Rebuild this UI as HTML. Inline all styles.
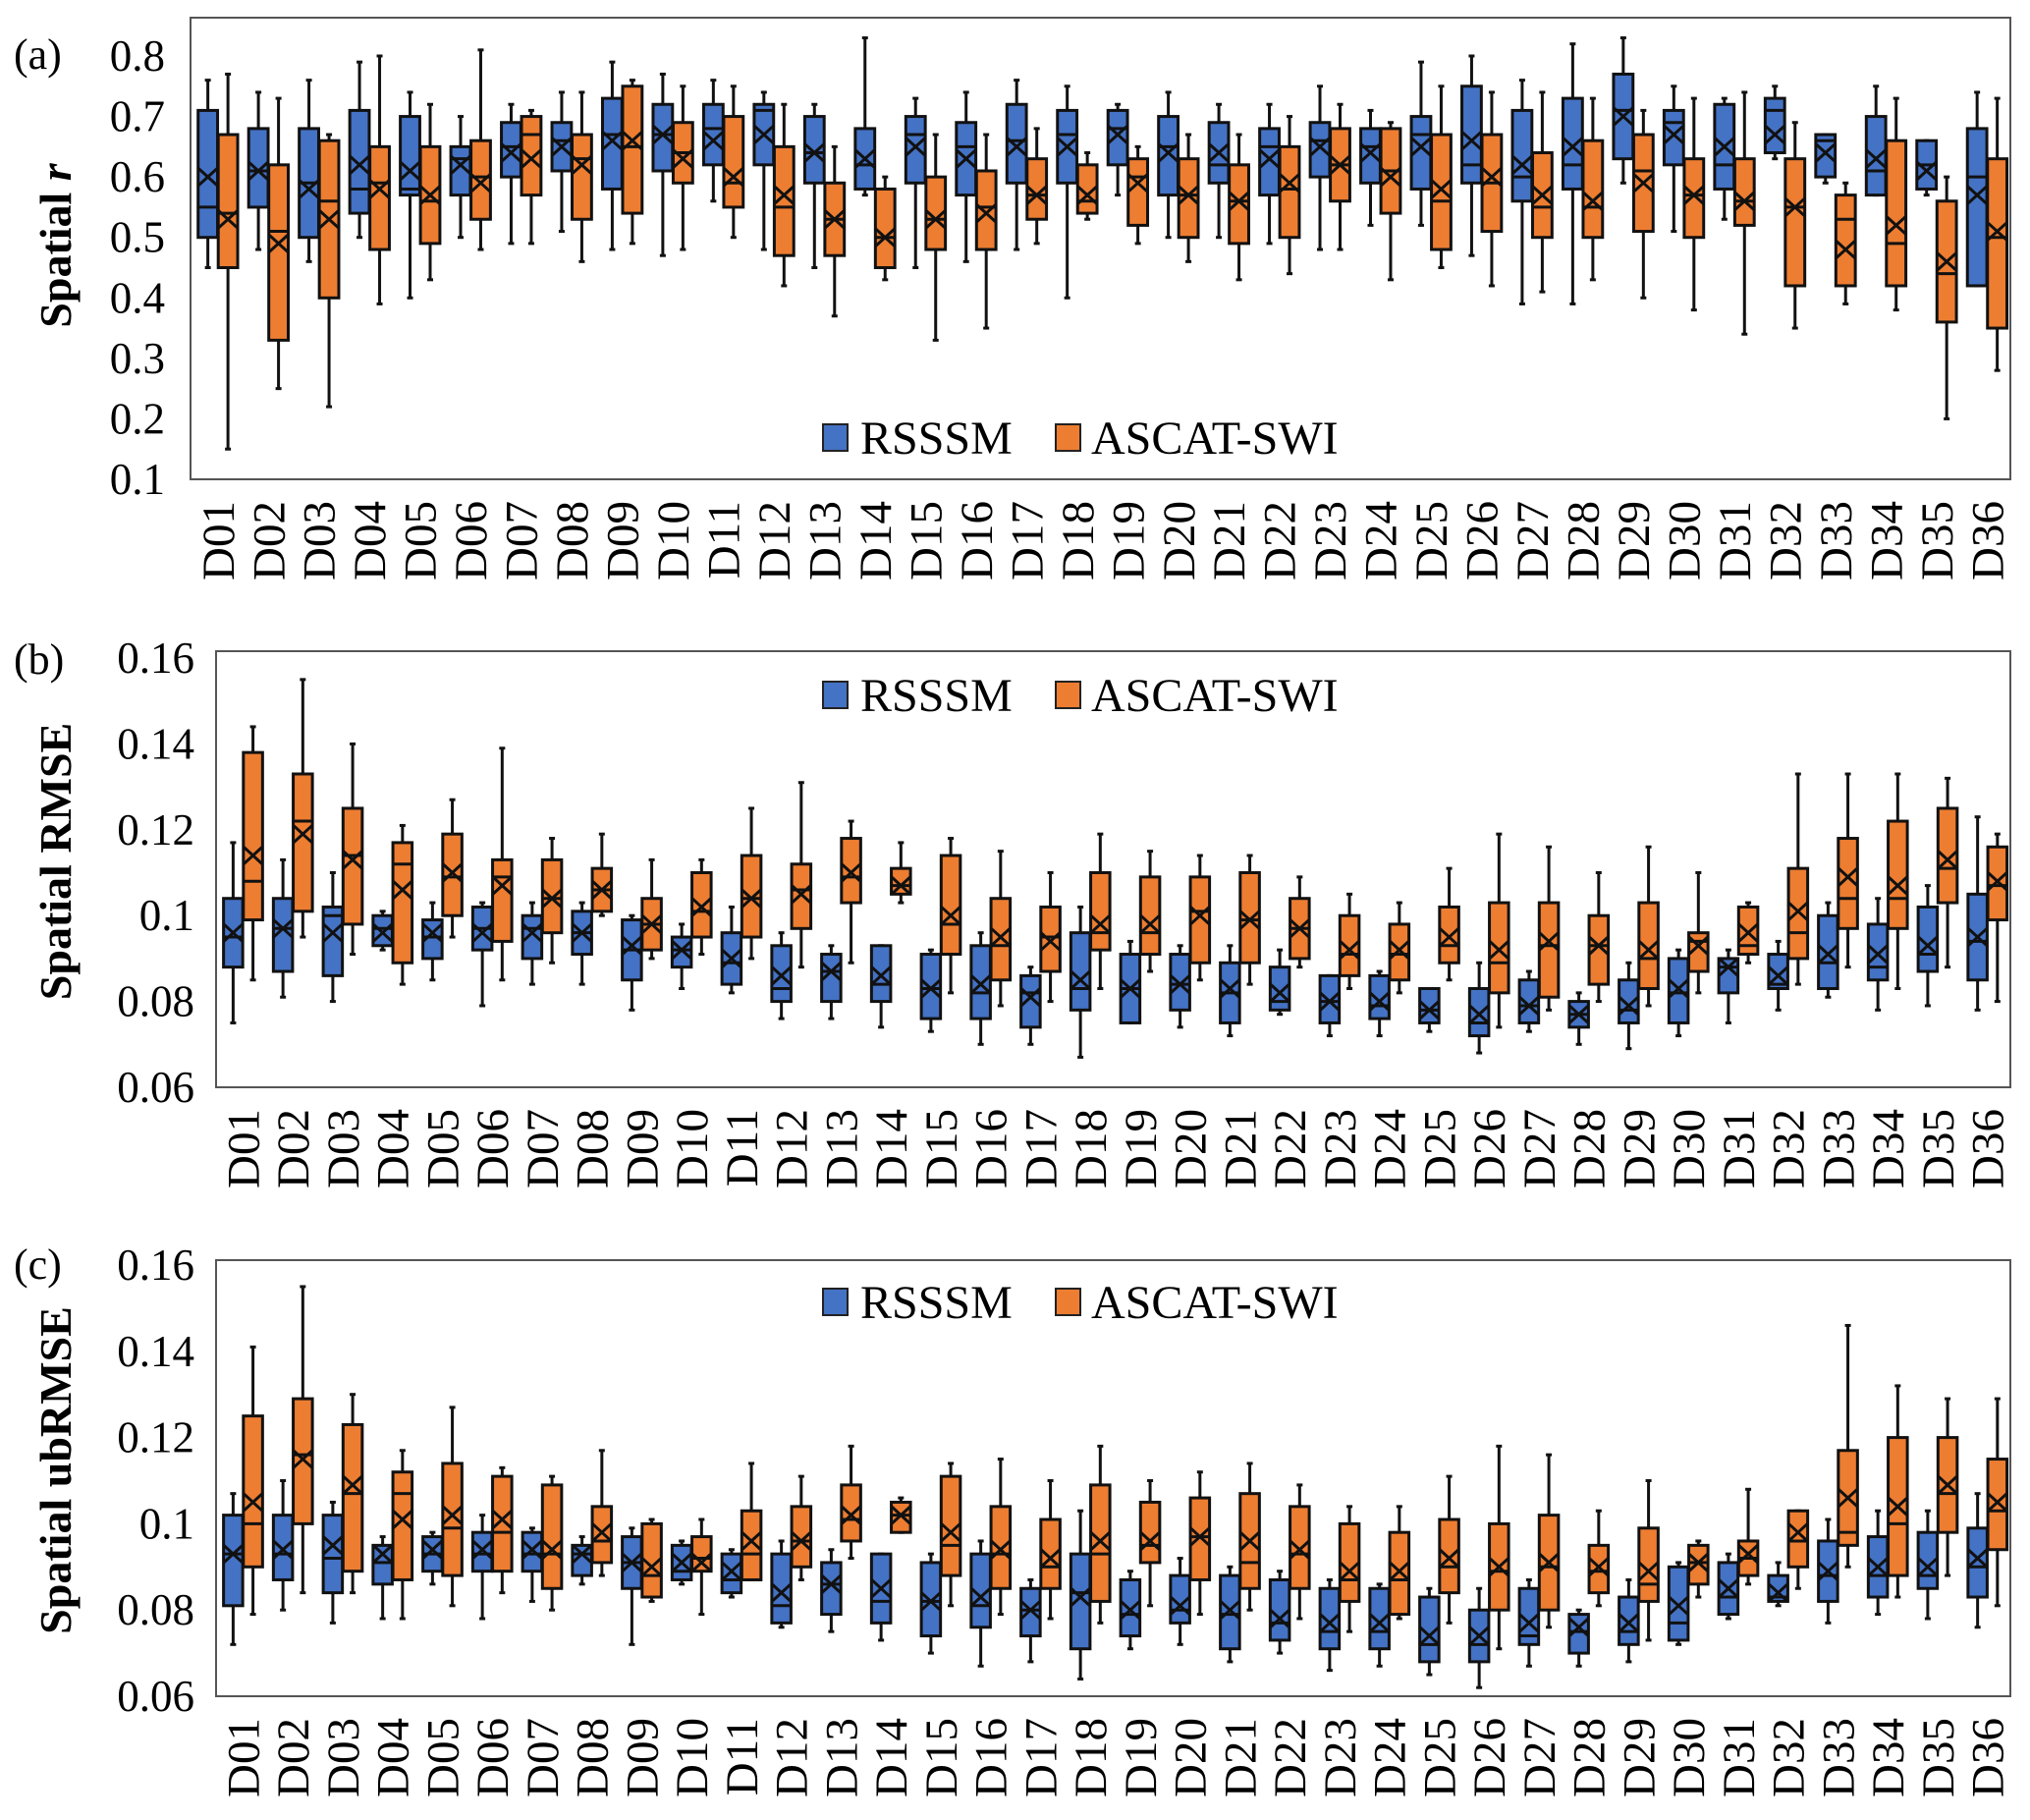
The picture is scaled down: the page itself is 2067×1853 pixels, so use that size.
<!DOCTYPE html>
<html><head><meta charset="utf-8"><style>
html,body{margin:0;padding:0;background:#fff;}
svg{display:block;}
text{font-family:"Liberation Serif",serif;fill:#000;}
</style></head><body>
<svg id="chart" width="2067" height="1853" viewBox="0 0 2067 1853" xmlns="http://www.w3.org/2000/svg"></svg>
<script>
const categories = ["D01","D02","D03","D04","D05","D06","D07","D08","D09","D10","D11","D12","D13","D14","D15","D16","D17","D18","D19","D20","D21","D22","D23","D24","D25","D26","D27","D28","D29","D30","D31","D32","D33","D34","D35","D36"];
// each entry: [min, q1, median, q3, max, mean]
const rRSSSM = [[0.45,0.50,0.55,0.71,0.76,0.60],[0.48,0.55,0.61,0.68,0.74,0.61],[0.46,0.50,0.59,0.68,0.76,0.58],[0.50,0.54,0.58,0.71,0.79,0.62],[0.40,0.57,0.58,0.70,0.74,0.61],[0.50,0.57,0.63,0.65,0.70,0.62],[0.49,0.60,0.65,0.69,0.72,0.64],[0.51,0.61,0.66,0.69,0.74,0.65],[0.48,0.58,0.67,0.73,0.79,0.66],[0.47,0.61,0.67,0.72,0.77,0.67],[0.56,0.62,0.68,0.72,0.76,0.66],[0.48,0.62,0.71,0.72,0.74,0.67],[0.45,0.59,0.64,0.70,0.72,0.64],[0.57,0.58,0.62,0.68,0.83,0.63],[0.45,0.59,0.67,0.70,0.73,0.65],[0.46,0.57,0.65,0.69,0.74,0.63],[0.48,0.59,0.66,0.72,0.76,0.65],[0.40,0.59,0.67,0.71,0.75,0.65],[0.57,0.62,0.68,0.71,0.72,0.67],[0.50,0.57,0.65,0.70,0.74,0.64],[0.50,0.59,0.62,0.69,0.72,0.64],[0.49,0.57,0.65,0.68,0.72,0.63],[0.48,0.60,0.66,0.69,0.75,0.65],[0.52,0.59,0.65,0.68,0.71,0.64],[0.52,0.58,0.67,0.70,0.79,0.65],[0.47,0.59,0.62,0.75,0.80,0.66],[0.39,0.56,0.60,0.71,0.76,0.62],[0.39,0.58,0.62,0.73,0.82,0.65],[0.59,0.63,0.71,0.77,0.83,0.70],[0.51,0.62,0.69,0.71,0.75,0.67],[0.53,0.58,0.62,0.72,0.73,0.65],[0.63,0.64,0.71,0.73,0.75,0.67],[0.59,0.60,0.66,0.67,0.67,0.64],[0.57,0.57,0.61,0.70,0.75,0.63],[0.57,0.58,0.62,0.66,0.66,0.61],[0.43,0.42,0.60,0.68,0.74,0.57]];
const rASCAT = [[0.15,0.45,0.54,0.67,0.77,0.53],[0.25,0.33,0.51,0.62,0.73,0.49],[0.22,0.40,0.56,0.66,0.67,0.53],[0.39,0.48,0.59,0.65,0.80,0.58],[0.43,0.49,0.56,0.65,0.72,0.57],[0.48,0.53,0.60,0.66,0.81,0.59],[0.49,0.57,0.67,0.70,0.71,0.63],[0.46,0.53,0.63,0.67,0.74,0.62],[0.49,0.54,0.65,0.75,0.76,0.66],[0.48,0.59,0.64,0.69,0.75,0.63],[0.50,0.55,0.59,0.70,0.75,0.60],[0.42,0.47,0.55,0.65,0.72,0.57],[0.37,0.47,0.53,0.59,0.65,0.53],[0.43,0.45,0.50,0.58,0.60,0.50],[0.33,0.48,0.53,0.60,0.67,0.53],[0.35,0.48,0.55,0.61,0.67,0.54],[0.49,0.53,0.57,0.63,0.68,0.57],[0.53,0.54,0.56,0.62,0.64,0.57],[0.49,0.52,0.60,0.63,0.65,0.59],[0.46,0.50,0.57,0.63,0.67,0.57],[0.43,0.49,0.56,0.62,0.67,0.56],[0.44,0.50,0.58,0.65,0.70,0.59],[0.48,0.56,0.62,0.68,0.72,0.62],[0.43,0.54,0.61,0.68,0.69,0.60],[0.45,0.48,0.56,0.67,0.75,0.58],[0.42,0.51,0.59,0.67,0.74,0.60],[0.41,0.50,0.55,0.64,0.74,0.57],[0.43,0.50,0.55,0.66,0.73,0.56],[0.40,0.51,0.61,0.67,0.71,0.59],[0.38,0.50,0.57,0.63,0.73,0.57],[0.34,0.52,0.56,0.63,0.74,0.56],[0.35,0.42,0.55,0.63,0.69,0.55],[0.39,0.42,0.53,0.57,0.59,0.48],[0.38,0.42,0.49,0.66,0.73,0.52],[0.20,0.36,0.44,0.56,0.60,0.46],[0.28,0.35,0.50,0.63,0.73,0.51]];
const rmseRSSSM = [[0.075,0.088,0.095,0.104,0.117,0.096],[0.081,0.087,0.097,0.104,0.113,0.097],[0.080,0.086,0.100,0.102,0.110,0.096],[0.092,0.093,0.097,0.100,0.101,0.096],[0.085,0.090,0.095,0.099,0.103,0.096],[0.079,0.092,0.097,0.102,0.103,0.096],[0.084,0.090,0.097,0.100,0.103,0.096],[0.084,0.091,0.096,0.101,0.103,0.096],[0.078,0.085,0.092,0.099,0.100,0.093],[0.083,0.088,0.092,0.095,0.098,0.092],[0.082,0.084,0.089,0.096,0.102,0.090],[0.076,0.080,0.083,0.093,0.096,0.086],[0.076,0.080,0.087,0.091,0.093,0.087],[0.074,0.080,0.084,0.093,0.093,0.086],[0.073,0.076,0.083,0.091,0.092,0.083],[0.070,0.076,0.082,0.093,0.096,0.084],[0.070,0.074,0.082,0.086,0.088,0.081],[0.067,0.078,0.083,0.096,0.102,0.085],[0.075,0.075,0.083,0.091,0.094,0.083],[0.074,0.078,0.084,0.091,0.093,0.084],[0.072,0.075,0.082,0.089,0.093,0.083],[0.077,0.078,0.080,0.088,0.092,0.082],[0.072,0.075,0.080,0.086,0.086,0.080],[0.072,0.076,0.079,0.086,0.087,0.080],[0.073,0.075,0.078,0.083,0.083,0.078],[0.068,0.072,0.075,0.083,0.089,0.077],[0.073,0.075,0.079,0.085,0.087,0.079],[0.070,0.074,0.077,0.080,0.082,0.077],[0.069,0.075,0.078,0.085,0.089,0.079],[0.072,0.075,0.082,0.090,0.092,0.083],[0.075,0.082,0.088,0.090,0.092,0.088],[0.078,0.083,0.084,0.091,0.094,0.086],[0.081,0.083,0.089,0.100,0.103,0.091],[0.078,0.085,0.088,0.098,0.104,0.091],[0.079,0.087,0.091,0.102,0.107,0.093],[0.078,0.085,0.094,0.105,0.123,0.095]];
const rmseASCAT = [[0.085,0.099,0.108,0.138,0.144,0.114],[0.095,0.101,0.122,0.133,0.155,0.119],[0.091,0.098,0.114,0.125,0.140,0.113],[0.084,0.089,0.112,0.117,0.121,0.106],[0.095,0.100,0.109,0.119,0.127,0.110],[0.085,0.094,0.109,0.113,0.139,0.107],[0.089,0.096,0.104,0.113,0.118,0.104],[0.100,0.101,0.106,0.111,0.119,0.106],[0.090,0.092,0.098,0.104,0.113,0.098],[0.091,0.095,0.101,0.110,0.113,0.102],[0.090,0.095,0.104,0.114,0.125,0.104],[0.088,0.097,0.106,0.112,0.131,0.105],[0.089,0.103,0.109,0.118,0.122,0.110],[0.103,0.105,0.107,0.111,0.117,0.107],[0.082,0.091,0.098,0.114,0.118,0.100],[0.079,0.085,0.093,0.104,0.115,0.095],[0.080,0.087,0.095,0.102,0.110,0.094],[0.083,0.092,0.096,0.110,0.119,0.098],[0.087,0.091,0.096,0.109,0.115,0.098],[0.085,0.089,0.101,0.109,0.114,0.100],[0.084,0.089,0.099,0.110,0.114,0.099],[0.088,0.090,0.097,0.104,0.109,0.097],[0.083,0.086,0.091,0.100,0.105,0.092],[0.082,0.085,0.091,0.098,0.103,0.092],[0.085,0.089,0.093,0.102,0.111,0.095],[0.074,0.082,0.089,0.103,0.119,0.092],[0.078,0.081,0.093,0.103,0.116,0.094],[0.080,0.084,0.093,0.100,0.110,0.093],[0.079,0.083,0.090,0.103,0.116,0.092],[0.082,0.087,0.094,0.096,0.110,0.093],[0.089,0.091,0.093,0.102,0.103,0.096],[0.084,0.090,0.096,0.111,0.133,0.101],[0.088,0.097,0.104,0.118,0.133,0.109],[0.083,0.097,0.104,0.122,0.133,0.107],[0.088,0.103,0.111,0.125,0.132,0.113],[0.080,0.099,0.107,0.116,0.119,0.108]];
const ubRSSSM = [[0.072,0.081,0.093,0.102,0.107,0.093],[0.080,0.087,0.093,0.102,0.110,0.094],[0.077,0.084,0.092,0.102,0.105,0.095],[0.078,0.086,0.091,0.095,0.097,0.093],[0.086,0.089,0.093,0.097,0.098,0.094],[0.078,0.089,0.093,0.098,0.102,0.094],[0.082,0.089,0.093,0.098,0.099,0.094],[0.086,0.088,0.093,0.095,0.097,0.093],[0.072,0.085,0.091,0.097,0.099,0.091],[0.086,0.087,0.089,0.095,0.096,0.091],[0.083,0.084,0.087,0.093,0.094,0.089],[0.076,0.077,0.081,0.093,0.096,0.084],[0.075,0.079,0.086,0.091,0.094,0.086],[0.073,0.077,0.082,0.093,0.093,0.085],[0.070,0.074,0.082,0.091,0.093,0.082],[0.067,0.076,0.081,0.093,0.096,0.083],[0.068,0.074,0.080,0.085,0.087,0.080],[0.064,0.071,0.084,0.093,0.103,0.083],[0.071,0.074,0.079,0.087,0.089,0.080],[0.072,0.077,0.080,0.088,0.092,0.081],[0.068,0.071,0.079,0.088,0.090,0.080],[0.070,0.073,0.077,0.087,0.089,0.078],[0.066,0.071,0.075,0.085,0.087,0.077],[0.067,0.071,0.075,0.085,0.086,0.077],[0.065,0.068,0.072,0.083,0.085,0.074],[0.062,0.068,0.072,0.080,0.085,0.074],[0.067,0.072,0.074,0.085,0.087,0.077],[0.067,0.070,0.075,0.079,0.080,0.076],[0.068,0.072,0.075,0.083,0.087,0.077],[0.072,0.073,0.077,0.090,0.091,0.081],[0.078,0.079,0.083,0.091,0.093,0.085],[0.081,0.082,0.083,0.088,0.091,0.084],[0.077,0.082,0.088,0.096,0.101,0.089],[0.079,0.083,0.088,0.097,0.103,0.090],[0.078,0.085,0.088,0.098,0.103,0.090],[0.076,0.083,0.090,0.099,0.107,0.092]];
const ubASCAT = [[0.079,0.090,0.100,0.125,0.141,0.105],[0.084,0.100,0.116,0.129,0.155,0.115],[0.084,0.089,0.107,0.123,0.130,0.109],[0.078,0.087,0.107,0.112,0.117,0.101],[0.081,0.088,0.099,0.114,0.127,0.102],[0.084,0.089,0.098,0.111,0.113,0.101],[0.080,0.085,0.093,0.109,0.111,0.094],[0.088,0.091,0.096,0.104,0.117,0.098],[0.082,0.083,0.088,0.100,0.101,0.090],[0.079,0.089,0.092,0.097,0.101,0.091],[0.087,0.087,0.093,0.103,0.114,0.096],[0.087,0.090,0.096,0.104,0.111,0.096],[0.092,0.096,0.101,0.109,0.118,0.102],[0.098,0.098,0.102,0.105,0.106,0.102],[0.081,0.088,0.095,0.111,0.114,0.098],[0.079,0.085,0.093,0.104,0.115,0.094],[0.078,0.085,0.090,0.101,0.110,0.092],[0.077,0.082,0.093,0.109,0.118,0.096],[0.081,0.091,0.095,0.105,0.110,0.096],[0.079,0.087,0.097,0.106,0.112,0.097],[0.080,0.085,0.091,0.107,0.114,0.096],[0.078,0.085,0.093,0.104,0.109,0.094],[0.075,0.082,0.087,0.100,0.104,0.089],[0.078,0.079,0.087,0.098,0.104,0.089],[0.077,0.084,0.090,0.101,0.111,0.092],[0.071,0.080,0.089,0.100,0.118,0.090],[0.076,0.080,0.090,0.102,0.116,0.091],[0.081,0.084,0.089,0.095,0.103,0.090],[0.073,0.082,0.086,0.099,0.110,0.089],[0.083,0.086,0.091,0.095,0.096,0.091],[0.086,0.088,0.092,0.096,0.108,0.093],[0.085,0.090,0.096,0.103,0.103,0.098],[0.090,0.095,0.098,0.117,0.146,0.106],[0.083,0.088,0.100,0.120,0.132,0.104],[0.088,0.098,0.107,0.120,0.129,0.109],[0.081,0.094,0.103,0.115,0.129,0.105]];
const ticksA = ["0.1","0.2","0.3","0.4","0.5","0.6","0.7","0.8"];
const ticksB = ["0.06","0.08","0.1","0.12","0.14","0.16"];
const ticksC = ["0.06","0.08","0.1","0.12","0.14","0.16"];

const NS = "http://www.w3.org/2000/svg";
const svg = document.getElementById('chart');
function mk(tag, attrs, parent){
  const e = document.createElementNS(NS, tag);
  for (const k in attrs) e.setAttribute(k, attrs[k]);
  (parent||svg).appendChild(e);
  return e;
}
const BLUE = "#4472C4", ORANGE = "#ED7D31";

function panel(cfg){
  const g = mk('g', {});
  
  
  const {left, right, top, bottom, vmin, vmax, y0, y1} = cfg;
  const yScale = v => y0 - (v - vmin) / (vmax - vmin) * (y0 - y1);
  const w = (right - left) / categories.length;
  const xBand = i => left + i * w;
  const fr = mk('rect', {x:left, y:top, width:right-left, height:bottom-top, fill:'none', stroke:'#555', 'stroke-width':2}, g);
  
  
  cfg.ticks.forEach(t => {
    const tx = mk('text', {x:cfg.tickRight, y:yScale(parseFloat(t)) + 15, 'text-anchor':'end', 'font-size':45}, g);
    tx.textContent = t;
    
    
  });
  const at = mk('text', {x:0, y:0, 'text-anchor':'middle', 'font-size':46, 'font-weight':'bold', transform:`translate(72,${cfg.titleY}) rotate(-90)`}, g);
  at.innerHTML = cfg.title;
  
  
  const pl = mk('text', {x:14, y:cfg.letterY, 'font-size':44}, g);
  pl.textContent = cfg.letter;
  
  
  categories.forEach((c, i) => {
    const cx = xBand(i) + w * 0.54;
    const tl = mk('text', {x:0, y:0, 'text-anchor':'end', 'font-size':47, transform:`translate(${cx+16},${bottom+22}) rotate(-90)`}, g);
    tl.textContent = c;
    
    
  });
  const series = [[cfg.s1, BLUE, 0.15, 0.535, 'rsssm'], [cfg.s2, ORANGE, 0.548, 0.933, 'ascat-swi']];
  series.forEach(([data, col, f0, f1, sn]) => {
    data.forEach((d, i) => {
      const [mn, q1, md, q3, mx, mean] = d;
      const xa = xBand(i) + w * f0, xb = xBand(i) + w * f1, xc = (xa + xb) / 2;
      const bg = mk('g', {stroke:'#111', 'stroke-width':3, fill:'none'}, g);
      
      
      const lo = Math.min(q1, q3), hi = Math.max(q1, q3);
      const lw = Math.min(mn, lo);
      mk('line', {x1:xc, x2:xc, y1:yScale(mx), y2:yScale(hi)}, bg);
      mk('line', {x1:xc, x2:xc, y1:yScale(lo), y2:yScale(lw)}, bg);
      mk('line', {x1:xc-3, x2:xc+3, y1:yScale(mx), y2:yScale(mx)}, bg);
      mk('line', {x1:xc-3, x2:xc+3, y1:yScale(lw), y2:yScale(lw)}, bg);
      mk('rect', {x:xa, y:yScale(hi), width:xb-xa, height:yScale(lo)-yScale(hi), fill:col}, bg);
      mk('line', {x1:xa, x2:xb, y1:yScale(md), y2:yScale(md)}, bg);
      const my = yScale(mean);
      mk('path', {d:`M${xa} ${my-9} L${xb} ${my+9} M${xa} ${my+9} L${xb} ${my-9}`}, bg);
    });
  });
  const lg = mk('g', {}, g);
  
  
  [[BLUE, 'RSSSM', 838, 876], [ORANGE, 'ASCAT-SWI', 1075, 1111]].forEach(([col, lab, sx, tx]) => {
    const e = mk('g', {}, lg);
    
    
    mk('rect', {x:sx, y:cfg.legendY - 30, width:25, height:27, fill:col, stroke:'#222', 'stroke-width':2}, e);
    const t = mk('text', {x:tx, y:cfg.legendY, 'font-size':48}, e);
    t.textContent = lab;
  });
}

panel({name:'panel-a-spatial-r', letter:'(a)', letterY:70, left:194, right:2047, top:18, bottom:488,
  vmin:0.1, vmax:0.8, y0:488, y1:57, ticks:ticksA, tickRight:168, title:'Spatial <tspan font-style="italic">r</tspan>', titleY:250,
  s1:rRSSSM, s2:rASCAT, legendY:462});
panel({name:'panel-b-spatial-rmse', letter:'(b)', letterY:686, left:220, right:2047, top:663, bottom:1107,
  vmin:0.06, vmax:0.16, y0:1107, y1:670, ticks:ticksB, tickRight:198, title:'Spatial RMSE', titleY:877,
  s1:rmseRSSSM, s2:rmseASCAT, legendY:724});
panel({name:'panel-c-spatial-ubrmse', letter:'(c)', letterY:1302, left:220, right:2047, top:1283, bottom:1727,
  vmin:0.06, vmax:0.16, y0:1727, y1:1288, ticks:ticksC, tickRight:198, title:'Spatial ubRMSE', titleY:1497,
  s1:ubRSSSM, s2:ubASCAT, legendY:1342});
</script>
</body></html>
